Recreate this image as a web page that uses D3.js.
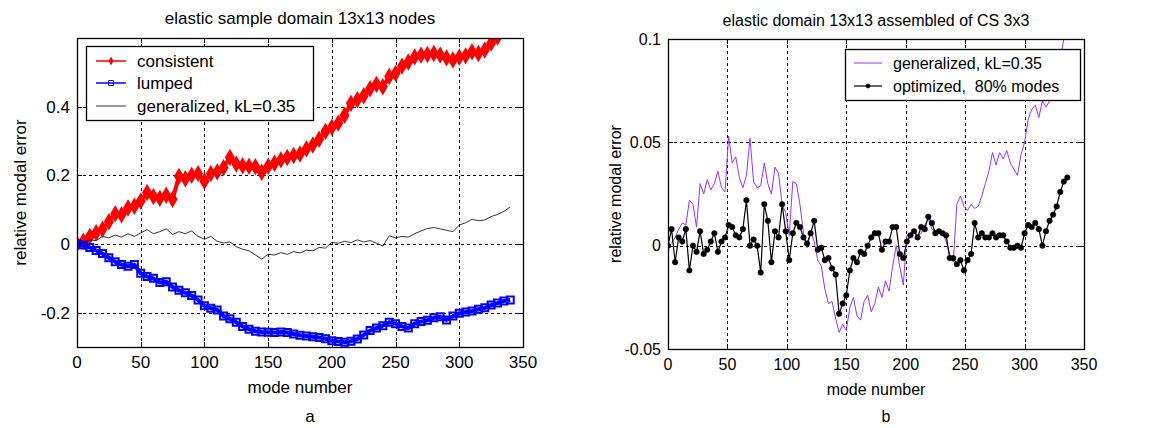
<!DOCTYPE html>
<html>
<head>
<meta charset="utf-8">
<script src="https://cdn.jsdelivr.net/npm/d3@7"></script>
<style>
  body { margin: 0; background: #fff; }
  text { font-family: "Liberation Sans", Arial, sans-serif; fill: #000; }
</style>
</head>
<body>
<script>
var width = 1161;
var height = 428;

// panel a: relative modal error, one value every 5 modes starting at mode 0
var consistent = [0, 0.008, 0.022, 0.033, 0.043, 0.065, 0.088, 0.085, 0.105, 0.11,
  0.125, 0.15, 0.138, 0.133, 0.142, 0.13, 0.197, 0.19, 0.2, 0.205,
  0.183, 0.205, 0.21, 0.222, 0.252, 0.233, 0.228, 0.226, 0.225, 0.209,
  0.226, 0.235, 0.245, 0.252, 0.258, 0.262, 0.277, 0.288, 0.305, 0.328,
  0.34, 0.352, 0.375, 0.41, 0.42, 0.432, 0.452, 0.465, 0.458, 0.488,
  0.497, 0.518, 0.53, 0.545, 0.55, 0.552, 0.555, 0.55, 0.542, 0.536,
  0.544, 0.548, 0.56, 0.555, 0.565, 0.585, 0.603];
var lumped = [0, -0.003, -0.01, -0.019, -0.028, -0.04, -0.052, -0.06, -0.065, -0.06,
  -0.085, -0.095, -0.1, -0.112, -0.11, -0.125, -0.135, -0.142, -0.15, -0.163,
  -0.18, -0.187, -0.192, -0.21, -0.218, -0.228, -0.24, -0.248, -0.254, -0.256,
  -0.257, -0.258, -0.256, -0.258, -0.262, -0.266, -0.268, -0.27, -0.272, -0.276,
  -0.282, -0.284, -0.286, -0.283, -0.277, -0.265, -0.252, -0.245, -0.238, -0.228,
  -0.232, -0.24, -0.245, -0.232, -0.226, -0.222, -0.215, -0.212, -0.221, -0.21,
  -0.202, -0.198, -0.195, -0.19, -0.186, -0.178, -0.172, -0.166, -0.163];
var generalizedA = [0, 0.004, 0.012, 0.01, 0.022, 0.018, 0.026, 0.02, 0.03, 0.022,
  0.032, 0.042, 0.03, 0.036, 0.044, 0.028, 0.036, 0.03, 0.038, 0.022,
  0.014, 0.022, 0.008, 0.003, 0.006, -0.008, -0.015, -0.02, -0.032, -0.044,
  -0.03, -0.032, -0.025, -0.03, -0.022, -0.026, -0.018, -0.02, -0.01, -0.012,
  0.005, 0.002, 0.008, 0.004, 0.012, 0.006, 0.01, 0.002, -0.006, 0.024,
  0.018, 0.022, 0.02, 0.03, 0.038, 0.045, 0.048, 0.044, 0.04, 0.036,
  0.055, 0.062, 0.072, 0.068, 0.07, 0.08, 0.086, 0.095, 0.108];

// panel b: one value every 3 modes (generalized starts at mode 3, optimized at 0)
var generalizedB = [0.001, 0.004, 0.008, 0.011, 0.01, 0.022, 0.02, 0.009, 0.03, 0.025,
  0.032, 0.027, 0.03, 0.036, 0.028, 0.026, 0.053, 0.04, 0.043, 0.033,
  0.028, 0.034, 0.052, 0.031, 0.028, 0.029, 0.04, 0.03, 0.025, 0.038,
  0.035, 0.02, 0.016, 0.005, 0.031, 0.03, 0.02, 0.006, -0.001, 0.007,
  0.002, -0.007, -0.01, -0.021, -0.028, -0.027, -0.035, -0.042, -0.038, -0.041,
  -0.03, -0.025, -0.034, -0.036, -0.027, -0.024, -0.032, -0.028, -0.02, -0.025,
  -0.017, -0.022, -0.01, 0.0, -0.01, -0.019, 0.005, 0.006, 0.007, 0.005,
  0.006, 0.01, 0.013, 0.008, 0.007, 0.006, 0.006, 0.002, -0.004, -0.008,
  0.02, 0.024, 0.019, 0.017, 0.02, 0.018, 0.019, 0.024, 0.03, 0.036,
  0.045, 0.039, 0.045, 0.042, 0.046, 0.04, 0.037, 0.034, 0.044, 0.05,
  0.061, 0.066, 0.068, 0.062, 0.07, 0.067, 0.07, 0.075, 0.08, 0.09,
  0.1, 0.105];
var optimized = [0, 0.008, -0.008, 0.004, 0.002, 0.008, -0.012, 0.0, -0.003, 0.007,
  -0.004, -0.002, 0.002, 0.006, -0.003, 0.002, 0.004, 0.01, 0.009, 0.005,
  0.004, 0.008, 0.022, 0.0, 0.003, 0.0, -0.013, 0.02, 0.012, -0.008,
  0.007, 0.004, 0.02, 0.007, -0.007, 0.006, 0.011, 0.009, 0.004, 0.001,
  0.006, 0.012, -0.002, -0.001, -0.007, -0.006, -0.011, -0.014, -0.033, -0.028,
  -0.024, -0.012, -0.006, -0.008, -0.003, -0.004, 0.0, 0.004, 0.006, 0.006,
  -0.002, 0.002, 0.002, 0.009, 0.009, -0.004, -0.006, 0.002, 0.005, 0.007,
  0.004, 0.009, 0.008, 0.014, 0.011, 0.006, 0.007, 0.006, 0.005, -0.006,
  -0.006, -0.009, -0.007, -0.012, -0.007, -0.004, 0.011, 0.004, 0.006, 0.004,
  0.004, 0.006, 0.004, 0.005, 0.005, 0.002, -0.001, -0.001, 0.0, -0.001,
  0.006, 0.01, 0.009, 0.011, 0.008, 0.0, 0.007, 0.012, 0.015, 0.019,
  0.026, 0.031, 0.033];

var xTicks = [0, 50, 100, 150, 200, 250, 300, 350];
var yTicksA = [-0.2, 0, 0.2, 0.4];
var yTicksB = [-0.05, 0, 0.05, 0.1];

var svg = d3.select("body")
  .append("svg")
  .attr("width", width)
  .attr("height", height);

function toPoints(values, start, step) {
  return values.map(function(v, i) { return {m: start + i * step, v: v}; });
}

function panel(p) {
  var x = d3.scaleLinear().domain([0, 350]).range([p.x0, p.x1]);
  var y = d3.scaleLinear().domain(p.ydom).range([p.y1, p.y0]);
  var g = svg.append("g");

  g.append("clipPath").attr("id", p.id)
    .append("rect")
    .attr("x", p.x0).attr("y", p.y0)
    .attr("width", p.x1 - p.x0).attr("height", p.y1 - p.y0);

  // dashed grid
  g.selectAll(".gx").data(xTicks.filter(function(t) { return t > 0 && t < 350; }))
    .enter().append("line")
    .attr("x1", function(d) { return Math.round(x(d)) + 0.5; })
    .attr("x2", function(d) { return Math.round(x(d)) + 0.5; })
    .attr("y1", p.y0).attr("y2", p.y1)
    .attr("stroke", "#000").attr("stroke-dasharray", "3,3");
  g.selectAll(".gy").data(p.yticks.filter(function(t) { return y(t) > p.y0 + 1 && y(t) < p.y1 - 1; }))
    .enter().append("line")
    .attr("y1", function(d) { return Math.round(y(d)) + 0.5; })
    .attr("y2", function(d) { return Math.round(y(d)) + 0.5; })
    .attr("x1", p.x0).attr("x2", p.x1)
    .attr("stroke", "#000").attr("stroke-dasharray", "3,3");

  // inward ticks on all four sides
  xTicks.forEach(function(t) {
    var xx = Math.round(x(t)) + 0.5;
    g.append("line").attr("x1", xx).attr("x2", xx).attr("y1", p.y1).attr("y2", p.y1 - 5).attr("stroke", "#000");
    g.append("line").attr("x1", xx).attr("x2", xx).attr("y1", p.y0).attr("y2", p.y0 + 5).attr("stroke", "#000");
    g.append("text").attr("x", x(t)).attr("y", p.y1 + p.xlabOff)
      .attr("text-anchor", "middle").style("font-size", p.fs + "px").text(t);
  });
  p.yticks.forEach(function(t) {
    var yy = Math.round(y(t)) + 0.5;
    g.append("line").attr("y1", yy).attr("y2", yy).attr("x1", p.x0).attr("x2", p.x0 + 5).attr("stroke", "#000");
    g.append("line").attr("y1", yy).attr("y2", yy).attr("x1", p.x1).attr("x2", p.x1 - 5).attr("stroke", "#000");
    g.append("text").attr("x", p.x0 - 7).attr("y", y(t)).attr("dy", "0.36em")
      .attr("text-anchor", "end").style("font-size", p.fs + "px").text(String(t));
  });

  var line = d3.line().x(function(d) { return x(d.m); }).y(function(d) { return y(d.v); });
  var plot = g.append("g").attr("clip-path", "url(#" + p.id + ")");
  p.series.forEach(function(s) {
    var pts = toPoints(s.values, s.start, s.step);
    plot.append("path").datum(pts).attr("d", line)
      .attr("fill", "none").attr("stroke", s.color).attr("stroke-width", s.lw)
      .attr("stroke-linejoin", "round");
    if (s.marker) {
      plot.selectAll(null).data(pts).enter().append("path")
        .attr("transform", function(d) { return "translate(" + x(d.m) + "," + y(d.v) + ")"; })
        .attr("d", s.marker)
        .attr("fill", s.mfill).attr("stroke", s.color).attr("stroke-width", s.mlw);
    }
  });

  // axes box
  g.append("rect").attr("x", p.x0 + 0.5).attr("y", p.y0 + 0.5)
    .attr("width", p.x1 - p.x0).attr("height", p.y1 - p.y0)
    .attr("fill", "none").attr("stroke", "#000").attr("stroke-width", 1.3);

  // texts
  var cx = (p.x0 + p.x1) / 2;
  g.append("text").attr("x", cx).attr("y", p.titleY).attr("text-anchor", "middle")
    .style("font-size", p.fs + "px").text(p.title);
  g.append("text").attr("x", cx).attr("y", p.y1 + p.xtitleOff).attr("text-anchor", "middle")
    .style("font-size", p.fs + "px").text("mode number");
  g.append("text").attr("x", cx + 10).attr("y", 422).attr("text-anchor", "middle")
    .style("font-size", p.fs + "px").text(p.letter);
  g.append("text")
    .attr("transform", "translate(" + p.ylabX + "," + (p.y0 + p.y1) / 2 + ") rotate(-90)")
    .attr("text-anchor", "middle").style("font-size", p.fs + "px").text("relative modal error");

  // legend
  var L = p.legend;
  g.append("rect").attr("x", L.x0 + 0.5).attr("y", L.y0 + 0.5)
    .attr("width", L.x1 - L.x0).attr("height", L.y1 - L.y0)
    .attr("fill", "#fff").attr("stroke", "#000").attr("stroke-width", 1.3);
  p.series.forEach(function(s, i) {
    var ly = L.rows[i];
    g.append("line").attr("x1", L.lx0).attr("x2", L.lx1).attr("y1", ly).attr("y2", ly)
      .attr("stroke", s.color).attr("stroke-width", s.lw > 2 ? 1.5 : s.lw);
    if (s.marker) {
      g.append("path").attr("transform", "translate(" + (L.lx0 + L.lx1) / 2 + "," + ly + ")")
        .attr("d", s.legendMarker || s.marker)
        .attr("fill", s.mfill).attr("stroke", s.color).attr("stroke-width", s.legendMlw || s.mlw);
    }
    g.append("text").attr("x", L.tx).attr("y", ly).attr("dy", "0.36em")
      .style("font-size", p.fs + "px").style("white-space", "pre").text(s.name);
  });
}

var square = "M-3.5,-3.5H3.5V3.5H-3.5Z";
var diamond = d3.symbol(d3.symbolDiamond).size(60)();
var dot = d3.symbol(d3.symbolCircle).size(24)();

panel({
  id: "clipA", x0: 77, x1: 523, y0: 38, y1: 347,
  ydom: [-0.3, 0.6], yticks: yTicksA, fs: 17,
  xlabOff: 21, xtitleOff: 46, ylabX: 26, titleY: 24,
  title: "elastic sample domain 13x13 nodes", letter: "a",
  series: [
    {name: "consistent", values: consistent, start: 0, step: 5, color: "#ff0000", lw: 4,
      marker: diamond, legendMarker: d3.symbol(d3.symbolDiamond).size(14)(), mfill: "#ff0000", mlw: 1.5, legendMlw: 1},
    {name: "lumped", values: lumped, start: 0, step: 5, color: "#0000ff", lw: 4,
      marker: square, legendMarker: "M-2.5,-2.5H2.5V2.5H-2.5Z", mfill: "none", mlw: 2, legendMlw: 1},
    {name: "generalized, kL=0.35", values: generalizedA, start: 0, step: 5, color: "#000", lw: 0.8}
  ],
  legend: {x0: 86, x1: 313, y0: 46, y1: 120, rows: [61, 83, 106], lx0: 96, lx1: 126, tx: 137}
});

panel({
  id: "clipB", x0: 668, x1: 1084, y0: 39, y1: 349,
  ydom: [-0.05, 0.1], yticks: yTicksB, fs: 16,
  xlabOff: 21, xtitleOff: 46, ylabX: 621, titleY: 26,
  title: "elastic domain 13x13 assembled of CS 3x3", letter: "b",
  series: [
    {name: "generalized, kL=0.35", values: generalizedB, start: 3, step: 3, color: "#9933ff", lw: 1},
    {name: "optimized,  80% modes", values: optimized, start: 0, step: 3, color: "#000", lw: 1.2,
      marker: dot, legendMarker: d3.symbol(d3.symbolCircle).size(14)(), mfill: "#000", mlw: 0.5}
  ],
  legend: {x0: 845, x1: 1080, y0: 49, y1: 100, rows: [63, 86], lx0: 854, lx1: 882, tx: 893}
});
</script>
</body>
</html>
